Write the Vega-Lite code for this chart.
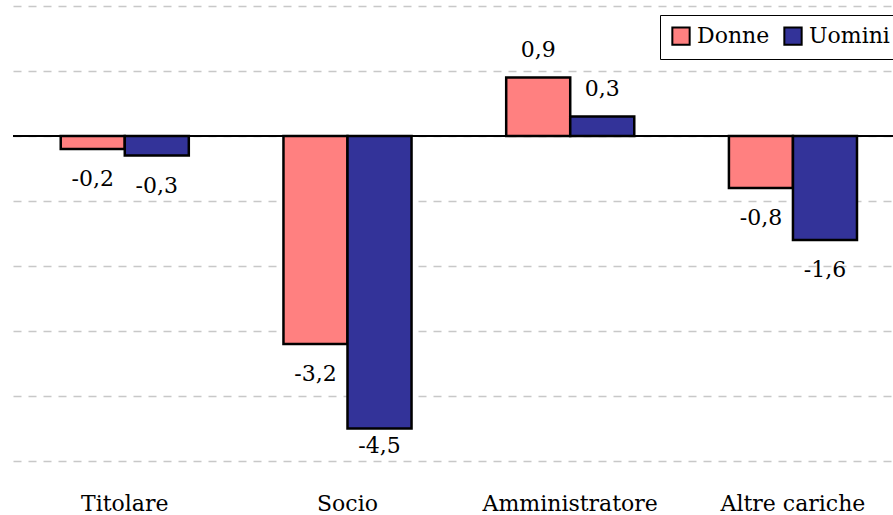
{
  "$schema": "https://vega.github.io/schema/vega-lite/v6.json",
  "width": 880,
  "height": 455,
  "autosize": {"type": "none"},
  "padding": {"left": 13, "top": 6, "right": 0, "bottom": 54},
  "config": {
    "view": {"stroke": null},
    "font": "DejaVu Serif",
    "locale": {"number": {"decimal": ",", "thousands": ".", "grouping": [3], "currency": ["", " €"], "minus": "-"}}
  },
  "data": {
    "values": [
      {"carica": "Titolare", "sesso": "Donne", "valore": -0.2},
      {"carica": "Titolare", "sesso": "Uomini", "valore": -0.3},
      {"carica": "Socio", "sesso": "Donne", "valore": -3.2},
      {"carica": "Socio", "sesso": "Uomini", "valore": -4.5},
      {"carica": "Amministratore", "sesso": "Donne", "valore": 0.9},
      {"carica": "Amministratore", "sesso": "Uomini", "valore": 0.3},
      {"carica": "Altre cariche", "sesso": "Donne", "valore": -0.8},
      {"carica": "Altre cariche", "sesso": "Uomini", "valore": -1.6}
    ]
  },
  "layer": [
    {
      "mark": {"type": "bar", "stroke": "black", "strokeWidth": 2.5},
      "encoding": {
        "x": {
          "field": "carica", "type": "nominal",
          "sort": ["Titolare", "Socio", "Amministratore", "Altre cariche"],
          "scale": {"paddingInner": 0.425, "paddingOuter": 0.188, "align": 0.57},
          "axis": {"title": null, "domain": false, "ticks": false, "labelFont": "DejaVu Serif", "labelFontSize": 22, "labelColor": "black", "labelAngle": 0, "labelBaseline": "alphabetic", "labelPadding": 49}
        },
        "xOffset": {"field": "sesso", "sort": ["Donne", "Uomini"]},
        "y": {
          "field": "valore", "type": "quantitative",
          "scale": {"domain": [-5, 2], "nice": false, "zero": false},
          "axis": {"title": null, "labels": false, "ticks": false, "domain": false, "values": [-5, -4, -3, -2, -1, 0, 1, 2], "gridColor": "#c8c8c8", "gridDash": [8, 7], "gridWidth": 1.5}
        },
        "color": {
          "field": "sesso", "type": "nominal",
          "scale": {"domain": ["Donne", "Uomini"], "range": ["#FF8080", "#333399"]},
          "legend": {
            "title": null, "orient": "none", "legendX": 647, "legendY": 9, "direction": "horizontal",
            "symbolType": "square", "symbolSize": 300, "symbolStrokeColor": "black", "symbolStrokeWidth": 2,
            "labelFont": "DejaVu Serif", "labelFontSize": 22, "labelColor": "black", "labelOffset": 5,
            "columnPadding": 10, "strokeColor": "black", "fillColor": "white", "padding": 10
          }
        }
      }
    },
    {
      "mark": {"type": "rule", "color": "black", "strokeWidth": 1.5},
      "encoding": {"y": {"datum": 0, "type": "quantitative"}}
    },
    {
      "transform": [{"filter": "datum.valore >= 0"}],
      "mark": {"type": "text", "fontSize": 22, "font": "DejaVu Serif", "color": "black", "baseline": "middle", "dy": -28},
      "encoding": {
        "x": {"field": "carica", "type": "nominal", "sort": ["Titolare", "Socio", "Amministratore", "Altre cariche"]},
        "xOffset": {"field": "sesso", "sort": ["Donne", "Uomini"]},
        "y": {"field": "valore", "type": "quantitative"},
        "text": {"field": "valore", "type": "quantitative", "format": ".1f"}
      }
    },
    {
      "transform": [{"filter": "datum.valore < 0 && datum.valore > -4"}],
      "mark": {"type": "text", "fontSize": 22, "font": "DejaVu Serif", "color": "black", "baseline": "middle", "dy": 30},
      "encoding": {
        "x": {"field": "carica", "type": "nominal", "sort": ["Titolare", "Socio", "Amministratore", "Altre cariche"]},
        "xOffset": {"field": "sesso", "sort": ["Donne", "Uomini"]},
        "y": {"field": "valore", "type": "quantitative"},
        "text": {"field": "valore", "type": "quantitative", "format": ".1f"}
      }
    },
    {
      "transform": [{"filter": "datum.valore <= -4"}],
      "mark": {"type": "text", "fontSize": 22, "font": "DejaVu Serif", "color": "black", "baseline": "middle", "dy": 17},
      "encoding": {
        "x": {"field": "carica", "type": "nominal", "sort": ["Titolare", "Socio", "Amministratore", "Altre cariche"]},
        "xOffset": {"field": "sesso", "sort": ["Donne", "Uomini"]},
        "y": {"field": "valore", "type": "quantitative"},
        "text": {"field": "valore", "type": "quantitative", "format": ".1f"}
      }
    }
  ]
}
